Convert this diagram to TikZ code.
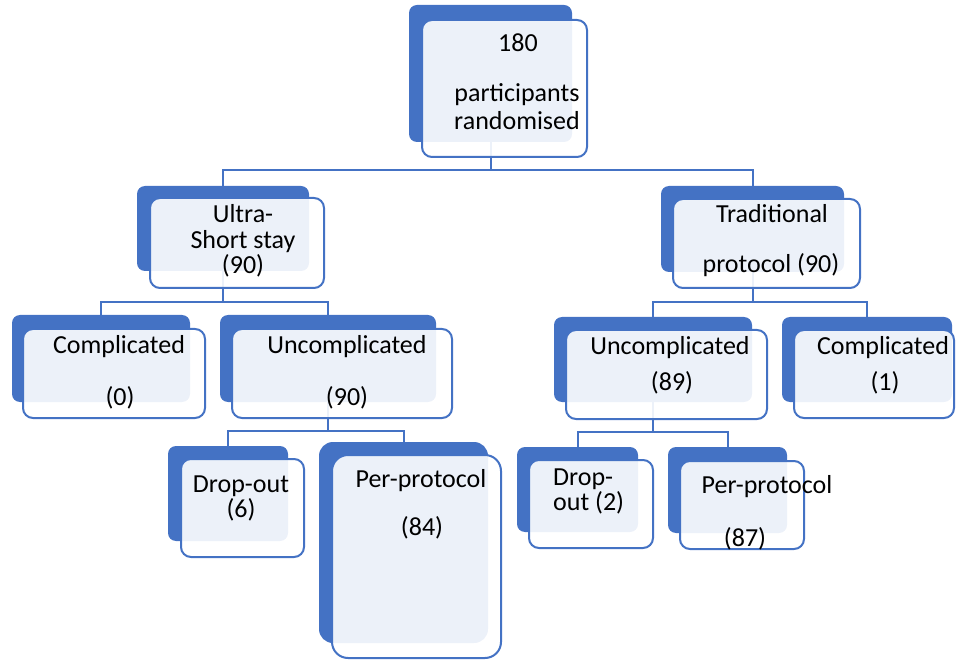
\documentclass[tikz,border=0pt]{standalone}
\usepackage{fontspec}
\setmainfont{Carlito}
\definecolor{sablue}{HTML}{4472C4}
\begin{document}
\begin{tikzpicture}[x=1pt,y=-1pt,
  backbox/.style={rectangle, rounded corners=8pt, fill=sablue, draw=none, anchor=north west, inner sep=0pt, outer sep=0pt},
  frontbox/.style={rectangle, rounded corners=10pt, draw=sablue, line width=2pt, fill=white, fill opacity=0.9, anchor=north west, inner sep=0pt, outer sep=0pt},
  lbl/.style={anchor=base, inner sep=0pt, font=\fontsize{26}{28}\selectfont, text=black},
  lblw/.style={lbl, anchor=base west},
  conn/.style={draw=sablue, line width=2pt}]
\useasboundingbox (0,0) rectangle (956,660);

% back boxes
\node[backbox, minimum width=163pt, minimum height=137pt] (rootB) at (409,5) {};
\node[backbox, minimum width=172pt, minimum height=85pt] (ultraB) at (137,186) {};
\node[backbox, minimum width=183pt, minimum height=86pt] (tradB) at (661,186) {};
\node[backbox, minimum width=178pt, minimum height=87pt] (complB) at (12,315) {};
\node[backbox, minimum width=216pt, minimum height=87pt] (uncLB) at (220,315) {};
\node[backbox, minimum width=198pt, minimum height=85pt] (uncRB) at (554,317) {};
\node[backbox, minimum width=170pt, minimum height=85pt] (comprB) at (782,317) {};
\node[backbox, minimum width=120pt, minimum height=95pt] (dropLB) at (168,446) {};
\node[backbox, minimum width=169pt, minimum height=201pt, rounded corners=14pt] (perLB) at (319,442) {};
\node[backbox, minimum width=121pt, minimum height=85pt] (dropRB) at (517,447) {};
\node[backbox, minimum width=119pt, minimum height=86pt] (perRB) at (668,447) {};

% connectors (behind front boxes)
\draw[conn] (rootB.south) -- ++(0,28) coordinate (bus1) -| (ultraB.north);
\draw[conn] (bus1) -| (tradB.north);
\draw[conn] (ultraB.south) -- ++(0,31) coordinate (bus2) -| (complB.north);
\draw[conn] (bus2) -| (uncLB.north);
\draw[conn] (tradB.south) -- ++(0,30) coordinate (bus3) -| (uncRB.north);
\draw[conn] (bus3) -| (comprB.north);
\draw[conn] (uncLB.south) -- ++(0,29) coordinate (bus4) -| (dropLB.north);
\draw[conn] (bus4) -| (perLB.north);
\draw[conn] (uncRB.south) -- ++(0,30) coordinate (bus5) -| (dropRB.north);
\draw[conn] (bus5) -| (perRB.north);

% front boxes
\node[frontbox, minimum width=165pt, minimum height=137pt] (rootF) at (422,20) {};
\node[frontbox, minimum width=174pt, minimum height=90pt] (ultraF) at (150,198) {};
\node[frontbox, minimum width=187pt, minimum height=89pt] (tradF) at (673,199) {};
\node[frontbox, minimum width=182pt, minimum height=89pt] (complF) at (23,329) {};
\node[frontbox, minimum width=220pt, minimum height=89pt] (uncLF) at (232,329) {};
\node[frontbox, minimum width=201pt, minimum height=89pt] (uncRF) at (566,330) {};
\node[frontbox, minimum width=160pt, minimum height=88pt] (comprF) at (794,330) {};
\node[frontbox, minimum width=123pt, minimum height=98pt] (dropLF) at (181,459) {};
\node[frontbox, minimum width=169pt, minimum height=203pt, rounded corners=16pt] (perLF) at (332,455) {};
\node[frontbox, minimum width=124pt, minimum height=88pt] (dropRF) at (529,460) {};
\node[frontbox, minimum width=124pt, minimum height=88pt] (perRF) at (680,461) {};

% labels
\node[lbl] (t1a) at (518,52) {180};
\node[lbl] (t1b) at (517,102) {participants};
\node[lbl] (t1c) at (517,130) {randomised};
\node[lbl] (t2a) at (243,223) {Ultra-};
\node[lbl] (t2b) at (243,249) {Short stay};
\node[lbl] (t2c) at (243,274) {(90)};
\node[lbl] (t3a) at (772,223) {Traditional};
\node[lbl] (t3b) at (771,273) {protocol (90)};
\node[lbl] (t4a) at (119,353) {Complicated};
\node[lbl] (t4b) at (120,405) {(0)};
\node[lbl] (t5a) at (347,353) {Uncomplicated};
\node[lbl] (t5b) at (347,405) {(90)};
\node[lbl] (t6a) at (670,355) {Uncomplicated};
\node[lbl] (t6b) at (672,390) {(89)};
\node[lbl] (t7a) at (883,355) {Complicated};
\node[lbl] (t7b) at (885,390) {(1)};
\node[lbl] (t8a) at (241,492) {Drop-out};
\node[lbl] (t8b) at (241,517) {(6)};
\node[lbl] (t9a) at (421,487) {Per-protocol};
\node[lbl] (t9b) at (422,535) {(84)};
\node[lblw] (t10a) at (553,485) {Drop-};
\node[lblw] (t10b) at (553,510) {out (2)};
\node[lbl] (t11a) at (767,493) {Per-protocol};
\node[lbl] (t11b) at (745,546) {(87)};
\end{tikzpicture}
\end{document}
